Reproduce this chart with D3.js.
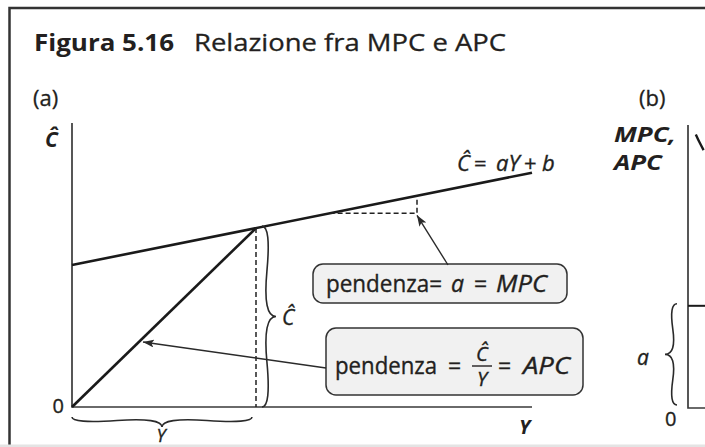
<!DOCTYPE html>
<html>
<head>
<meta charset="utf-8">
<script src="https://cdn.jsdelivr.net/npm/d3@7"></script>
<style>
  html, body { margin: 0; padding: 0; background: #fff; }
  svg { display: block; }
</style>
</head>
<body>
<div id="figura"></div>
<script>
// pannello (a): valori schematici
const redditoY = [0, 100];            // estremi dell'asse Y
const consumoC = [50, 82.5];          // Ĉ = aY + b agli estremi
const raggioY = [0, 40];              // retta dall'origine al punto (Y, Ĉ)
const raggioC = [0, 63];
const triangoloY = [56, 75, 75];      // triangolo tratteggiato della pendenza
const triangoloC = [68.2, 68.2, 74.4];

// pannello (b)
const mpcY = [0, 5];
const mpcV = [0.325, 0.325];
const apcY = [1.7, 2.5, 3.4];
const apcV = [0.87, 0.845, 0.82];

const titolo = ["Figura 5.16", "Relazione fra MPC e APC"];
const pannelli = ["(a)", "(b)"];

const width = 705;
const height = 447;
const ink = "#231f20";
const font = "'Open Sans', 'Noto Sans', sans-serif";

const svg = d3.select("#figura")
  .append("svg")
    .attr("width", width)
    .attr("height", height)
    .attr("viewBox", `0 0 ${width} ${height}`);

const defs = svg.append("defs");
defs.append("marker")
    .attr("id", "punta")
    .attr("viewBox", "0 0 11 8")
    .attr("refX", 11)
    .attr("refY", 4)
    .attr("markerWidth", 11)
    .attr("markerHeight", 8)
    .attr("markerUnits", "userSpaceOnUse")
    .attr("orient", "auto")
  .append("path")
    .attr("d", "M0,0 L11,4 L0,8 L2.5,4 z")
    .attr("fill", "#2a2a2a");

// cornice
svg.append("path")
    .attr("d", "M9.5,447 L9.5,8 L706,8")
    .attr("fill", "none")
    .attr("stroke", "#333")
    .attr("stroke-width", 2.5);

// titolo
svg.append("text")
    .text(titolo[0])
    .attr("x", 34).attr("y", 51)
    .attr("font-family", font).attr("font-weight", "bold")
    .attr("font-size", 24).attr("fill", ink)
    .attr("textLength", 140).attr("lengthAdjust", "spacingAndGlyphs");

svg.append("text")
    .text(titolo[1])
    .attr("x", 194).attr("y", 51)
    .attr("font-family", font)
    .attr("font-size", 24).attr("fill", ink)
    .attr("stroke", ink).attr("stroke-width", 0.3)
    .attr("textLength", 312).attr("lengthAdjust", "spacingAndGlyphs");

svg.selectAll(".pannello")
  .data(pannelli)
  .join("text")
    .attr("class", "pannello")
    .text(d => d)
    .attr("x", (d, i) => i === 0 ? 33 : 639)
    .attr("y", 106)
    .attr("font-family", font)
    .attr("font-size", 22)
    .attr("fill", ink)
    .attr("stroke", ink).attr("stroke-width", 0.3);

/*******************************/
/*         Pannello (a)        */
/*******************************/
const xScale = d3.scaleLinear().domain([0, 100]).range([72, 532]);
const yScale = d3.scaleLinear().domain([0, 100]).range([407, 123]);

const line = d3.line()
  .x(d => xScale(d[0]))
  .y(d => yScale(d[1]));

// assi
svg.append("path")
    .attr("d", line([[0, 100], [0, 0], [100, 0]]))
    .attr("fill", "none")
    .attr("stroke", "#3a3a3a")
    .attr("stroke-width", 1.7);

// retta del consumo
svg.append("path")
    .attr("d", line(d3.zip(redditoY, consumoC)))
    .attr("fill", "none")
    .attr("stroke", "#1a1a1a")
    .attr("stroke-width", 2.6);

// retta dall'origine
svg.append("path")
    .attr("d", line(d3.zip(raggioY, raggioC)))
    .attr("fill", "none")
    .attr("stroke", "#1a1a1a")
    .attr("stroke-width", 2.6);

// tratteggi
svg.append("path")
    .attr("d", line([[raggioY[1], raggioC[1]], [raggioY[1], 0]]))
    .attr("fill", "none")
    .attr("stroke", "#222")
    .attr("stroke-width", 1.5)
    .attr("stroke-dasharray", "5,3");

svg.append("path")
    .attr("d", line(d3.zip(triangoloY, triangoloC)))
    .attr("fill", "none")
    .attr("stroke", "#222")
    .attr("stroke-width", 1.5)
    .attr("stroke-dasharray", "5,3");

// parentesi graffe
const graffa = (x1, y1, x2, y2, w, q) => {
  let dx = x1 - x2, dy = y1 - y2;
  const len = Math.sqrt(dx * dx + dy * dy);
  dx /= len; dy /= len;
  const qx1 = x1 + q * w * dy, qy1 = y1 - q * w * dx;
  const qx2 = (x1 - .25 * len * dx) + (1 - q) * w * dy, qy2 = (y1 - .25 * len * dy) - (1 - q) * w * dx;
  const tx = (x1 - .5 * len * dx) + w * dy, ty = (y1 - .5 * len * dy) - w * dx;
  const qx3 = x2 + q * w * dy, qy3 = y2 - q * w * dx;
  const qx4 = (x1 - .75 * len * dx) + (1 - q) * w * dy, qy4 = (y1 - .75 * len * dy) - (1 - q) * w * dx;
  return `M${x1},${y1} Q${qx1},${qy1} ${qx2},${qy2} T${tx},${ty} M${x2},${y2} Q${qx3},${qy3} ${qx4},${qy4} T${tx},${ty}`;
};

const graffe = svg.append("g")
    .attr("fill", "none")
    .attr("stroke", "#2a2a2a")
    .attr("stroke-width", 1.6);

graffe.append("path")
    .attr("d", graffa(xScale(0), yScale(0) + 10, xScale(raggioY[1]) - 4, yScale(0) + 10, 10, 0.65));
graffe.append("path")
    .attr("d", graffa(xScale(raggioY[1]) + 6, yScale(0), xScale(raggioY[1]) + 6, yScale(raggioC[1]) - 2, 14, 0.65));

// riquadri con le pendenze
const riquadri = [
  {x: 313, y: 264, w: 254, h: 39},
  {x: 326, y: 328, w: 257, h: 67}
];
svg.selectAll(".riquadro")
  .data(riquadri)
  .join("rect")
    .attr("class", "riquadro")
    .attr("x", d => d.x).attr("y", d => d.y)
    .attr("width", d => d.w).attr("height", d => d.h)
    .attr("rx", 10)
    .attr("fill", "#f1f1f1")
    .attr("stroke", "#333")
    .attr("stroke-width", 1.5);

// frecce
const frecce = [
  [[448, 265], [xScale(triangoloY[1]), yScale(triangoloC[1]) + 2]],
  [[326, 368], [143, 342]]
];
svg.selectAll(".freccia")
  .data(frecce)
  .join("path")
    .attr("class", "freccia")
    .attr("d", d => d3.line()(d))
    .attr("stroke", "#2a2a2a")
    .attr("stroke-width", 1.4)
    .attr("marker-end", "url(#punta)");

// testi
const testo = (x, y, s, opt = {}) => svg.append("text")
    .text(s)
    .attr("x", x).attr("y", y)
    .attr("font-family", font)
    .attr("font-size", opt.size || 22)
    .attr("font-style", opt.italic ? "italic" : "normal")
    .attr("font-weight", opt.bold ? "bold" : "normal")
    .attr("text-anchor", opt.anchor || "start")
    .attr("fill", ink)
    .attr("stroke", ink)
    .attr("stroke-width", opt.bold ? 0 : 0.35)
    .attr("textLength", opt.len || null)
    .attr("lengthAdjust", opt.len ? "spacingAndGlyphs" : null);

testo(45, 147, "Ĉ", {bold: true, italic: true, size: 21});
testo(64, 413, "0", {size: 20, anchor: "end"});
testo(519, 434, "Y", {bold: true, italic: true, size: 20});
testo(161, 442, "Y", {italic: true, size: 18, anchor: "middle"});
testo(282, 325, "Ĉ", {italic: true, size: 21});

// Ĉ = aY + b
testo(457, 171, "Ĉ", {italic: true, size: 22});
testo(474, 171, "=", {size: 22});
testo(496, 171, "aY", {italic: true, size: 22});
testo(524, 171, "+", {size: 22});
testo(542, 171, "b", {italic: true, size: 22});

// riquadro 1
testo(326, 292, "pendenza=", {size: 23, len: 116});
testo(451, 292, "a", {italic: true, size: 23});
testo(474, 292, "=", {size: 23});
testo(496, 292, "MPC", {italic: true, size: 23, len: 51});

// riquadro 2
testo(335, 374, "pendenza", {size: 23, len: 102});
testo(448, 374, "=", {size: 23});
testo(482, 361, "Ĉ", {italic: true, size: 20, anchor: "middle"});
testo(482, 386, "Y", {italic: true, size: 20, anchor: "middle"});
svg.append("line")
    .attr("x1", 472).attr("x2", 492)
    .attr("y1", 366).attr("y2", 366)
    .attr("stroke", ink).attr("stroke-width", 1.4);
testo(498, 374, "=", {size: 23});
testo(523, 374, "APC", {italic: true, size: 23, len: 47});

/*******************************/
/*         Pannello (b)        */
/*******************************/
const xB = d3.scaleLinear().domain([0, 100]).range([688, 1148]);
const yB = d3.scaleLinear().domain([0, 0.9]).range([408, 125]);

const lineB = d3.line()
  .x(d => xB(d[0]))
  .y(d => yB(d[1]));

svg.append("path")
    .attr("d", lineB([[0, 0.9], [0, 0], [5, 0]]))
    .attr("fill", "none")
    .attr("stroke", "#3a3a3a")
    .attr("stroke-width", 1.7);

svg.append("path")
    .attr("d", lineB(d3.zip(mpcY, mpcV)))
    .attr("fill", "none")
    .attr("stroke", "#1a1a1a")
    .attr("stroke-width", 2);

svg.append("path")
    .attr("d", lineB.curve(d3.curveNatural)(d3.zip(apcY, apcV)))
    .attr("fill", "none")
    .attr("stroke", "#1a1a1a")
    .attr("stroke-width", 2.4);

graffe.append("path")
    .attr("d", graffa(xB(0) - 11, yB(mpcV[0]) - 2, xB(0) - 11, yB(0) - 3, 12, 0.65));

testo(614, 142, "MPC,", {bold: true, italic: true, size: 22, len: 62});
testo(614, 170, "APC", {bold: true, italic: true, size: 22, len: 48});
testo(637, 365, "a", {italic: true, size: 21});
testo(665, 426, "0", {size: 20});

// bordo inferiore della pagina
svg.append("rect")
    .attr("x", 0).attr("y", 444.5)
    .attr("width", width).attr("height", 3)
    .attr("fill", "#e4e4e4");
</script>
</body>
</html>
